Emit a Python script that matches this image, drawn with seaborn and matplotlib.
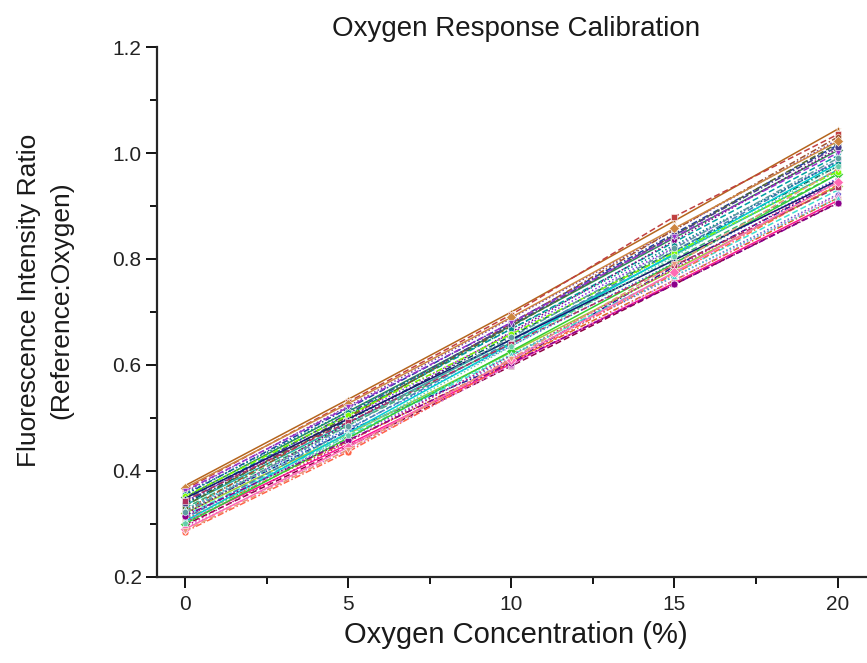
import matplotlib
matplotlib.use("Agg")
import matplotlib.pyplot as plt
from matplotlib.ticker import MultipleLocator
import seaborn as sns
import pandas as pd

# Oxygen concentrations used for each calibration run (%)
oxygen_pct = [0, 5, 10, 15, 20]

# Fluorescence intensity ratio (reference:oxygen) for each calibration run
run01 = [0.372, 0.535, 0.700, 0.872, 1.045]
run02 = [0.365, 0.530, 0.695, 0.880, 1.035]
run03 = [0.360, 0.522, 0.688, 0.855, 1.025]
run04 = [0.355, 0.518, 0.680, 0.848, 1.015]
run05 = [0.350, 0.512, 0.674, 0.840, 1.005]
run06 = [0.346, 0.506, 0.668, 0.832, 0.995]
run07 = [0.342, 0.500, 0.660, 0.822, 0.985]
run08 = [0.338, 0.496, 0.655, 0.815, 0.975]
run09 = [0.335, 0.490, 0.648, 0.808, 0.968]
run10 = [0.330, 0.486, 0.642, 0.800, 0.960]
run11 = [0.327, 0.480, 0.636, 0.793, 0.952]
run12 = [0.323, 0.476, 0.605, 0.786, 0.945]
run13 = [0.320, 0.470, 0.624, 0.780, 0.938]
run14 = [0.316, 0.466, 0.618, 0.773, 0.930]
run15 = [0.312, 0.462, 0.613, 0.767, 0.922]
run16 = [0.308, 0.456, 0.607, 0.760, 0.915]
run17 = [0.303, 0.450, 0.602, 0.755, 0.910]
run18 = [0.298, 0.446, 0.598, 0.752, 0.906]
run19 = [0.292, 0.440, 0.600, 0.760, 0.920]
run20 = [0.285, 0.436, 0.605, 0.772, 0.940]
run21 = [0.300, 0.462, 0.626, 0.792, 0.960]
run22 = [0.310, 0.478, 0.645, 0.815, 0.985]
run23 = [0.318, 0.490, 0.662, 0.835, 1.008]
run24 = [0.325, 0.500, 0.678, 0.855, 1.030]
run25 = [0.305, 0.472, 0.640, 0.810, 0.980]
run26 = [0.334, 0.503, 0.673, 0.845, 1.018]
run27 = [0.295, 0.455, 0.618, 0.782, 0.950]
run28 = [0.340, 0.508, 0.676, 0.845, 1.012]
run29 = [0.368, 0.527, 0.690, 0.858, 1.022]
run30 = [0.362, 0.520, 0.680, 0.842, 1.000]
run31 = [0.357, 0.512, 0.668, 0.826, 0.982]
run32 = [0.352, 0.505, 0.658, 0.812, 0.965]
run33 = [0.348, 0.498, 0.648, 0.798, 0.948]
run34 = [0.344, 0.492, 0.640, 0.788, 0.935]
run35 = [0.328, 0.472, 0.620, 0.768, 0.915]
run36 = [0.315, 0.458, 0.604, 0.752, 0.905]
run37 = [0.290, 0.445, 0.610, 0.775, 0.945]
run38 = [0.287, 0.440, 0.612, 0.790, 0.970]
run39 = [0.302, 0.468, 0.635, 0.805, 0.975]
run40 = [0.322, 0.485, 0.652, 0.820, 0.990]

runs = [run01, run02, run03, run04, run05, run06, run07, run08, run09, run10,
        run11, run12, run13, run14, run15, run16, run17, run18, run19, run20,
        run21, run22, run23, run24, run25, run26, run27, run28, run29, run30,
        run31, run32, run33, run34, run35, run36, run37, run38, run39, run40]

rows = []
for i, vals in enumerate(runs, start=1):
    for x, y in zip(oxygen_pct, vals):
        rows.append({"run": f"Run {i:02d}", "oxygen": x, "ratio": y})
df = pd.DataFrame(rows)

colors = ["#b5651d", "#c04040", "#7b3f9e", "#1f3f9f", "#2e8b57", "#00a0a0",
          "#8a2be2", "#006060", "#20b2aa", "#3cb371", "#4169e1", "#1e1e8f",
          "#9acd32", "#40e0d0", "#6a5acd", "#d2691e", "#ff1493", "#8b0040",
          "#da70d6", "#ff6347", "#32cd32", "#4682b4", "#800080", "#a0522d",
          "#00ced1", "#556b2f", "#c71585", "#483d8b", "#cd853f", "#9932cc",
          "#008b8b", "#7cfc00", "#191970", "#b03060", "#48d1cc", "#8b008b",
          "#ff69b4", "#e9967a", "#66cdaa", "#5f9ea0"]
dash_cycle = ["", (4, 2), (1, 1.5), (4, 1.5, 1, 1.5)]
marker_cycle = ["*", "s", "^", "o", "D", "v", "p", "h"]
run_names = [f"Run {i:02d}" for i in range(1, len(runs) + 1)]
dashes = {n: dash_cycle[i % len(dash_cycle)] for i, n in enumerate(run_names)}
markers = {n: marker_cycle[i % len(marker_cycle)] for i, n in enumerate(run_names)}

sns.set_style("ticks")
plt.rcParams["font.family"] = ["Liberation Sans", "DejaVu Sans"]

fig = plt.figure(figsize=(8.67, 6.63), dpi=100)
ax = fig.add_axes([0.181, 0.130, 0.819, 0.799])

sns.lineplot(data=df, x="oxygen", y="ratio", hue="run", style="run",
             palette=colors, dashes=dashes, markers=markers, markersize=5,
             linewidth=1.1, markeredgewidth=0.4, legend=False, ax=ax)

ax.set_xlim(-0.86, 20.9)
ax.set_ylim(0.2, 1.2)
ax.xaxis.set_major_locator(MultipleLocator(5))
ax.xaxis.set_minor_locator(MultipleLocator(2.5))
ax.yaxis.set_major_locator(MultipleLocator(0.2))
ax.yaxis.set_minor_locator(MultipleLocator(0.1))
ax.tick_params(which="major", length=8, width=1.3, labelsize=15,
               color="black", labelcolor="#222222", pad=3)
ax.tick_params(axis="x", which="major", pad=5)
ax.tick_params(which="minor", length=5, width=1.3, color="black")
ax.set_yticklabels([f"{v:.1f}" for v in ax.get_yticks()])
for s in ("top", "right"):
    ax.spines[s].set_visible(False)
for s in ("left", "bottom"):
    ax.spines[s].set_linewidth(1.6)

ax.set_xlabel("")
ax.set_ylabel("")
text_color = "#1a1a1a"
fig.text(516 / 867, 1 - 635 / 663, "Oxygen Concentration (%)", fontsize=21,
         ha="center", va="center", color=text_color)
fig.text(45 / 867, 1 - 300 / 663, "Fluorescence Intensity Ratio\n(Reference:Oxygen)",
         fontsize=19, rotation=90, ha="center", va="center",
         multialignment="center", linespacing=1.45, color=text_color)
fig.text(516 / 867, 1 - 29 / 663, "Oxygen Response Calibration", fontsize=20,
         ha="center", va="center", color=text_color)

fig.savefig("out.png", dpi=100)
